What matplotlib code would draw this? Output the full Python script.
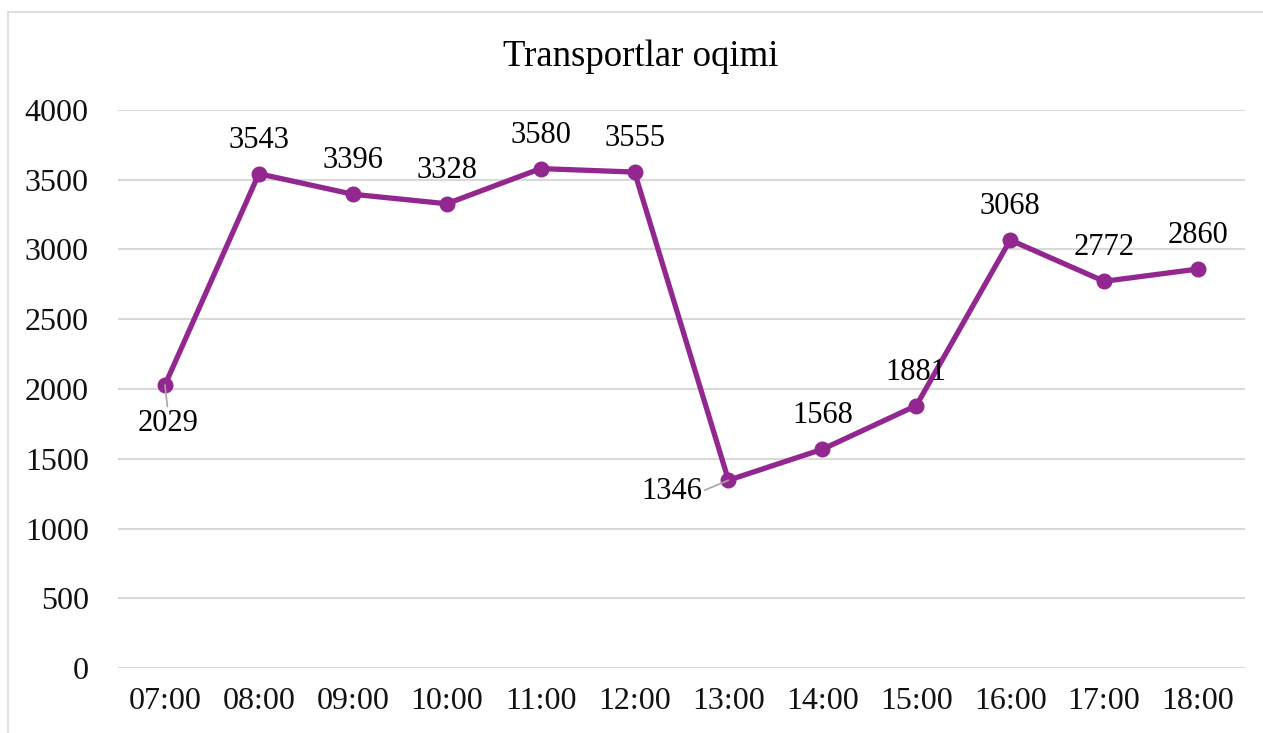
import matplotlib
matplotlib.use("Agg")
import matplotlib.pyplot as plt
from matplotlib.lines import Line2D

plt.rcParams['font.family'] = ['Liberation Serif', 'DejaVu Serif']

hours = ["07:00", "08:00", "09:00", "10:00", "11:00", "12:00",
         "13:00", "14:00", "15:00", "16:00", "17:00", "18:00"]
flow = [2029, 3543, 3396, 3328, 3580, 3555, 1346, 1568, 1881, 3068, 2772, 2860]
yticks = [0, 500, 1000, 1500, 2000, 2500, 3000, 3500, 4000]
title = "Transportlar oqimi"

color = "#92278F"
fig = plt.figure(figsize=(12.63, 7.33), dpi=100)
ax = fig.add_axes([118/1263, 65/733, 1127/1263, 558/733])

x = list(range(len(hours)))
ax.plot(x, flow, color=color, lw=3.8, marker='o', ms=10.5, zorder=3,
        solid_joinstyle='round')
ax.set_xlim(-0.5, len(hours) - 0.5)
ax.set_ylim(0, 4000)
ax.set_yticks(yticks)
ax.set_xticks(x)
ax.set_xticklabels(hours)
ax.grid(axis='y', color='#D9D9D9', lw=1.5)
ax.set_axisbelow(True)
for s in ax.spines.values():
    s.set_visible(False)
ax.tick_params(length=0, labelsize=23, colors='#111111')
ax.tick_params(axis='y', pad=21)
ax.tick_params(axis='x', pad=14)

for i, v in enumerate(flow):
    if i == 0:
        ax.annotate(str(v), (i, v), xytext=(2, -28), textcoords='offset points',
                    ha='center', va='center', fontsize=22,
                    arrowprops=dict(arrowstyle='-', color='#A6A6A6', lw=1.2,
                                    shrinkA=0, shrinkB=0, relpos=(0.5, 1.0)))
    elif i == 6:
        ax.annotate(str(v), (i, v), xytext=(-41, -8), textcoords='offset points',
                    ha='center', va='center', fontsize=22,
                    arrowprops=dict(arrowstyle='-', color='#A6A6A6', lw=1.2,
                                    shrinkA=0, shrinkB=0, relpos=(1.0, 0.5)))
    else:
        ax.annotate(str(v), (i, v), xytext=(0, 24), textcoords='offset points',
                    ha='center', va='center', fontsize=22)

fig.text(641/1263, 1 - 57/733, title, ha='center', va='center', fontsize=26.5)

# chart frame lines
fig.add_artist(Line2D([8/1263, 8/1263], [0, 1 - 12/733], color='#D9D9D9', lw=1.2,
                      transform=fig.transFigure))
fig.add_artist(Line2D([8/1263, 1], [1 - 12/733, 1 - 12/733], color='#D9D9D9', lw=1.2,
                      transform=fig.transFigure))

fig.savefig("out.png", dpi=100)
